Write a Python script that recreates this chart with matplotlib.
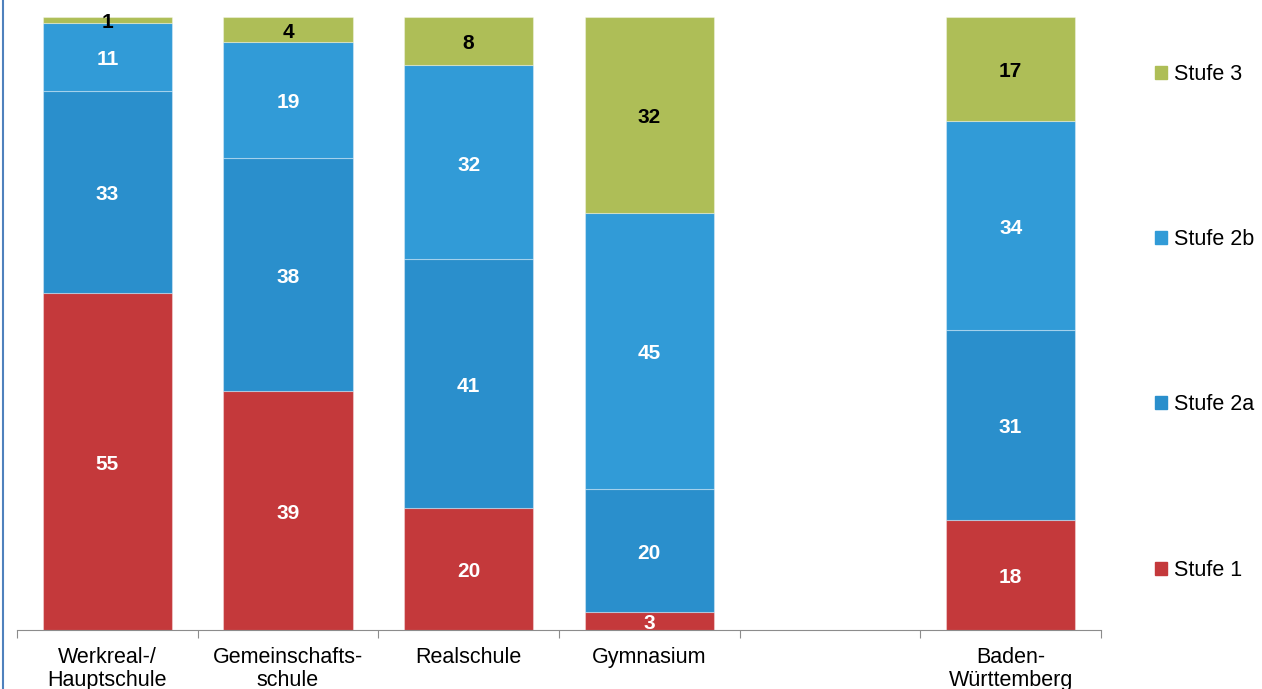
import matplotlib.pyplot as plt
import numpy as np
from matplotlib.lines import Line2D
from matplotlib.patches import Patch

plt.rcParams['font.family'] = ['Liberation Sans', 'DejaVu Sans']

categories = ["Werkreal-/\nHauptschule", "Gemeinschafts-\nschule", "Realschule", "Gymnasium", "", "Baden-\nWürttemberg"]
# Anteile in %, Realschule unrounded (labels show rounded values)
stufe_1 = [55, 39, 19.9, 3, None, 18]
stufe_2a = [33, 38, 40.6, 20, None, 31]
stufe_2b = [11, 19, 31.6, 45, None, 34]
stufe_3 = [1, 4, 7.9, 32, None, 17]

series = [("Stufe 1", stufe_1, "#c4393b", "white"),
          ("Stufe 2a", stufe_2a, "#2a8fcc", "white"),
          ("Stufe 2b", stufe_2b, "#319bd7", "white"),
          ("Stufe 3", stufe_3, "#aebe57", "black")]

fig = plt.figure(figsize=(12.62, 6.89), dpi=100)
ax = fig.add_axes([17 / 1262, 59 / 689, 1084 / 1262, 613 / 689])

x = np.arange(len(categories))
bottom = np.zeros(len(categories))
for name, vals, color, tcolor in series:
    v = np.array([0 if a is None else a for a in vals], dtype=float)
    ax.bar(x, v, width=0.715, bottom=bottom, color=color,
           edgecolor=(1, 1, 1, 0.35), linewidth=0.8, label=name)
    for i, a in enumerate(vals):
        if a is None:
            continue
        ax.annotate(f"{a:.0f}", (x[i], bottom[i] + a / 2), xytext=(0, -2),
                    textcoords="offset points", ha="center", va="center",
                    color=tcolor, fontsize=15, fontweight="bold")
    bottom += v

ax.set_xlim(-0.5, len(categories) - 0.5)
ax.set_ylim(0, 100)
for s in ["top", "right", "left"]:
    ax.spines[s].set_visible(False)
ax.spines["bottom"].set_color("#8c8c8c")
ax.set_yticks([])
ax.set_xticks(np.arange(-0.5, len(categories)))
ax.set_xticklabels([])
ax.tick_params(axis="x", length=6, color="#8c8c8c", direction="out")
for i, c in enumerate(categories):
    ax.text(x[i], -2.85, c, ha="center", va="top", fontsize=15.5,
            linespacing=1.1, clip_on=False)

handles = [Patch(color=c, label=n) for n, _, c, _ in reversed(series)]
fig.legend(handles=handles, loc="upper left", bbox_to_anchor=(1155 / 1262, 1 - 64 / 689),
           frameon=False, fontsize=15.5, handlelength=0.55, handleheight=0.55,
           handletextpad=0.35, labelspacing=6.7, borderpad=0, borderaxespad=0)

fig.add_artist(Line2D([3 / 1262, 3 / 1262], [0, 1], color="#4f81bd", linewidth=1.5))

fig.savefig("out.png", dpi=100)
